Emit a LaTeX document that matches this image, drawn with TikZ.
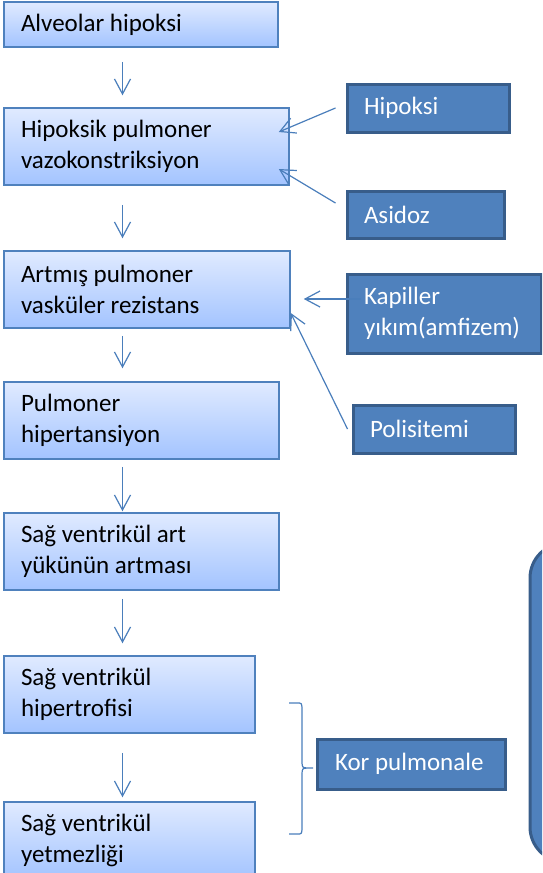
\documentclass[tikz,border=0pt]{standalone}
\usepackage{fontspec}
\setmainfont{Carlito}
\usepackage{xcolor}
\usetikzlibrary{arrows.meta}
\definecolor{boxtop}{RGB}{224,234,255}
\definecolor{boxbot}{RGB}{163,196,255}
\definecolor{boxline}{RGB}{79,129,189}
\definecolor{darkfill}{RGB}{79,129,189}
\definecolor{darkline}{RGB}{56,93,138}
\definecolor{arrowcol}{RGB}{74,126,187}
\begin{document}
\begin{tikzpicture}[x=1pt, y=-1pt,
                    every node/.style={font=\fontsize{25}{31}\selectfont},
                    stage/.style={draw=boxline, line width=1.5pt, top color=boxtop,
                    bottom color=boxbot, align=flush left, inner xsep=17pt, inner ysep=0pt},
                    cause/.style={draw=darkline, line width=3pt, fill=darkfill,
                    text=white, align=flush left, inner xsep=17pt, inner ysep=0pt},
                    flow/.style={draw=arrowcol, line width=1.2pt,
                    -{Straight Barb[length=15pt, width=16pt]}}]
                        \useasboundingbox (0,0) rectangle (542,873);
                        \clip (0,0) rectangle (542,873);
                        \coordinate (col) at (122.5,0);
                        % main chain
                        \node[stage, minimum width=274pt, minimum height=45pt, text width=240pt]
                        (alveolar) at (141,24.5) {Alveolar hipoksi};
                        \node[stage, minimum width=285pt, minimum height=77pt, text width=251pt]
                        (hpv) at (146.5,146.5) {Hipoksik pulmoner\\vazokonstriksiyon};
                        \node[stage, minimum width=286pt, minimum height=77pt, text width=252pt]
                        (apvr) at (147,289.5) {Artmış pulmoner\\vasküler rezistans};
                        \node[stage, minimum width=275pt, minimum height=77pt, text width=241pt]
                        (pht) at (141.5,420.5) {Pulmoner\\hipertansiyon};
                        \node[stage, minimum width=275pt, minimum height=77pt, text width=241pt]
                        (afterload) at (141.5,551.5) {Sağ ventrikül art\\yükünün artması};
                        \node[stage, minimum width=251pt, minimum height=77pt, text width=217pt]
                        (rvh) at (129.5,694.5) {Sağ ventrikül\\hipertrofisi};
                        \node[stage, minimum width=251pt, minimum height=77pt, text width=217pt]
                        (rvf) at (129.5,840.5) {Sağ ventrikül\\yetmezliği};
                        % causes
                        \node[cause, minimum width=162pt, minimum height=48pt, text width=128pt]
                        (hipoksi) at (428,108) {Hipoksi};
                        \node[cause, minimum width=157pt, minimum height=47pt, text width=123pt]
                        (asidoz) at (425.5,214.5) {Asidoz};
                        \node[cause, minimum width=194pt, minimum height=79pt, text width=160pt]
                        (kapiller) at (444,313.5) {Kapiller\\yıkım(amfizem)};
                        \node[cause, minimum width=162pt, minimum height=48pt, text width=128pt]
                        (polisitemi) at (434,429) {Polisitemi};
                        \node[cause, minimum width=188pt, minimum height=50pt, text width=152pt,
                        inner xsep=18pt]
                        (korpulm) at (411,764) {Kor pulmonale};
                        % arrows down the chain
                        \foreach \a/\b/\s/\e in {alveolar/hpv/14/12, hpv/apvr/19/12,
                        apvr/pht/7/13, pht/afterload/7/1, afterload/rvh/8/12, rvh/rvf/19/4}
                        \draw[flow, shorten <=\s pt, shorten >=\e pt] (\a.south -| col) --
                        (\b.north -| col);
                        % arrows from the causes
                        \draw[flow] ([xshift=-10pt]hipoksi.west) --
                        ([xshift=-11pt, yshift=14.5pt]hpv.east);
                        \draw[flow] ([xshift=-10pt, yshift=11.5pt]asidoz.west) --
                        ([xshift=-11pt, yshift=-22.5pt]hpv.east);
                        \draw[flow] ([xshift=15pt, yshift=14.5pt]kapiller.west) --
                        ([xshift=13pt, yshift=-9.5pt]apvr.east);
                        \draw[flow] ([xshift=-4pt]polisitemi.west) --
                        ([yshift=-23.5pt]apvr.east);
                        % brace for kor pulmonale
                        \draw[draw=arrowcol, line width=1.2pt]
                        (289,703) -- (297,703) .. controls (301.5,703) .. (302,707.5) -- (302,763)
                        .. controls (302.5,767.5) .. (307,768) -- (313,768) -- (307,768)
                        .. controls (302.5,768.5) .. (302,773) -- (302,829.5)
                        .. controls (301.5,834) .. (297,834) -- (289,834);
                        % shape cut by the right edge
                        \filldraw[fill=darkfill, draw=darkline, line width=3pt,
                        rounded corners=35pt]
                        (530,543) rectangle (600,862);
                    \end{tikzpicture}
\end{document}
